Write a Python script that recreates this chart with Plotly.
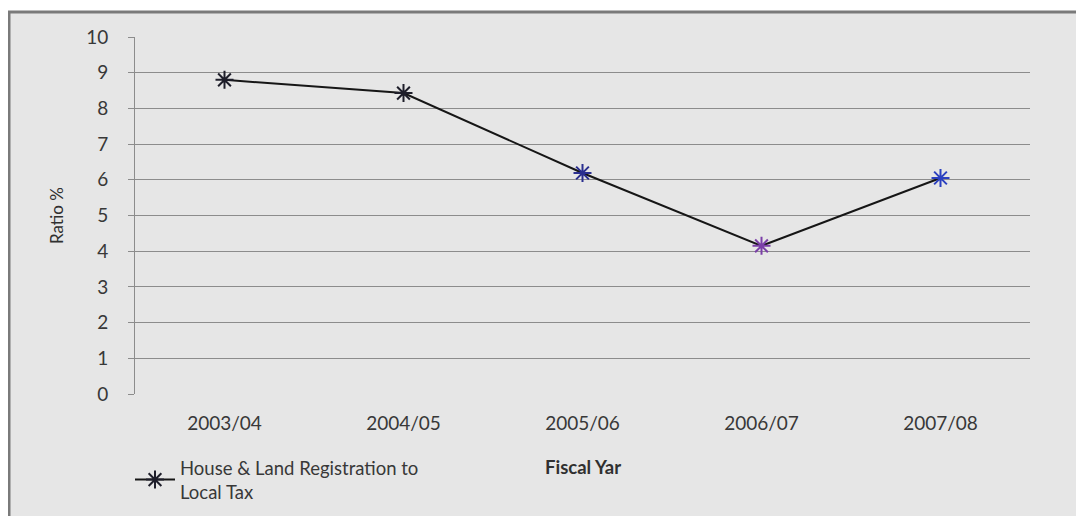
import plotly.graph_objects as go

categories = ["2003/04", "2004/05", "2005/06", "2006/07", "2007/08"]
ratio = [8.8, 8.43, 6.19, 4.15, 6.05]
marker_colors = ["#1e1e2a", "#1e1e2a", "#2a2f8f", "#7b3fa8", "#2b40c0"]
y_ticks = list(range(0, 11))

FONT = "Lato"
OFF = 8  # page body margin offset
W, H = 1084 - OFF, 516 - OFF
# plot area in page pixels (reference)
L, R, T, B = 135, 1030, 37, 394

def px_x(px):
    return (px - L) / (R - L)

def px_y(py):
    return (B - py) / (B - T)

def cx(px):
    return (px - OFF) / W

def cy(py):
    return 1 - (py - OFF) / H

fig = go.Figure()
fig.add_trace(go.Scatter(
    x=categories, y=ratio, mode="lines+markers",
    name="House & Land Registration to<br>Local Tax",
    line=dict(color="#161616", width=2),
    marker=dict(symbol="asterisk-open", size=15, color=marker_colors,
                line=dict(color=marker_colors, width=2)),
))

fig.update_layout(
    width=W, height=H,
    margin=dict(l=L - OFF, r=1084 - R, t=T - OFF, b=516 - B, autoexpand=False),
    paper_bgcolor="white",
    plot_bgcolor="rgba(0,0,0,0)",
    font=dict(family=FONT, size=18.5, color="#383838"),
    showlegend=True,
    legend=dict(xref="container", yref="container",
                x=cx(130), y=cy(449), xanchor="left", yanchor="top",
                bgcolor="rgba(0,0,0,0)", font=dict(size=18.5, color="#383838"),
                itemwidth=40, tracegroupgap=0),
    shapes=[
        dict(type="rect", xref="paper", yref="paper",
             x0=px_x(9), x1=px_x(1095), y0=px_y(12), y1=px_y(530),
             fillcolor="#e6e6e6", line=dict(color="#7a7a7a", width=3),
             layer="below"),
    ],
    annotations=[
        dict(text="<b>Fiscal Yar</b>", xref="paper", yref="paper",
             x=px_x(583), y=px_y(467), xanchor="center", yanchor="middle",
             showarrow=False, font=dict(size=18.5, color="#303030")),
        dict(text="Ratio %", xref="paper", yref="paper",
             x=px_x(56), y=px_y(216), xanchor="center", yanchor="middle",
             showarrow=False, textangle=-90,
             font=dict(size=17, color="#303030")),
    ],
)

fig.update_xaxes(
    type="category", range=[-0.5, 4.5], showgrid=False, zeroline=False,
    showline=False, ticks="", tickfont=dict(size=19, color="#383838"),
    ticklabelstandoff=16,
)
fig.update_yaxes(
    range=[0, 10], tickvals=y_ticks, showgrid=True, gridcolor="#8c8c8c",
    gridwidth=1, zeroline=False, showline=True, linecolor="#8c8c8c",
    linewidth=1, ticks="outside", ticklen=6, tickcolor="#8c8c8c",
    tickfont=dict(size=19, color="#383838"), ticklabelstandoff=16,
)

fig.write_html("out.html")
